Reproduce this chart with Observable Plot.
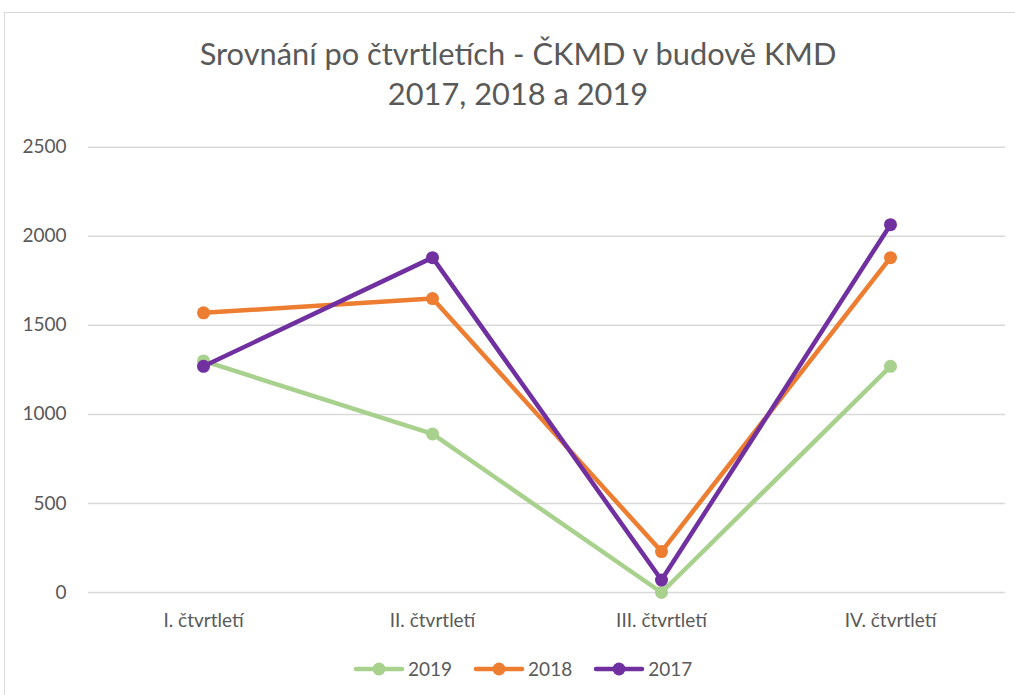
<!DOCTYPE html>
<html>
<head>
<meta charset="utf-8">
<script src="https://cdn.jsdelivr.net/npm/d3@7"></script>
<script src="https://cdn.jsdelivr.net/npm/@observablehq/plot@0.6"></script>
<style>
  html, body { margin: 0; padding: 0; background: #fff; overflow: hidden; width: 1015px; height: 695px; }
  #frame { position: absolute; left: 4px; top: 12px; width: 1030px; height: 720px; border: 1.5px solid #d9d9d9; box-sizing: border-box; }
  #title { position: absolute; left: 0; top: 34px; width: 1036px; text-align: center; font-family: Lato, sans-serif; font-size: 30.8px; line-height: 40px; color: #595959; }
  #chart { position: absolute; left: 0; top: 120px; }
  #legend { position: absolute; left: 353px; top: 657px; display: flex; align-items: center; font-family: Lato, sans-serif; font-size: 19px; color: #595959; }
  #legend .item { display: flex; align-items: center; margin-right: 21px; }
  #legend svg { margin-right: 3px; }
</style>
</head>
<body>
<div id="frame"></div>
<div id="title">Srovnání po čtvrtletích - ČKMD v budově KMD<br>2017, 2018 a 2019</div>
<div id="chart"></div>
<div id="legend"></div>
<script>
const quarters = ["I. čtvrtletí", "II. čtvrtletí", "III. čtvrtletí", "IV. čtvrtletí"];
const years = ["2019", "2018", "2017"];
const values2019 = [1300, 890, 0, 1270];
const values2018 = [1570, 1650, 230, 1880];
const values2017 = [1270, 1880, 70, 2065];
const yTicks = [0, 500, 1000, 1500, 2000, 2500];
const colors = ["#A9D18E", "#ED7D31", "#7030A0"];

const seriesValues = {"2019": values2019, "2018": values2018, "2017": values2017};
const data = years.flatMap(y => quarters.map((q, i) => ({quarter: q, year: y, value: seriesValues[y][i]})));

const seriesMarks = years.flatMap(y => {
  const d = data.filter(r => r.year === y);
  return [
    Plot.lineY(d, {x: "quarter", y: "value", stroke: "year", strokeWidth: 4.5, strokeLinecap: "round", strokeLinejoin: "round"}),
    Plot.dot(d, {x: "quarter", y: "value", fill: "year", r: 6.5, stroke: "none"})
  ];
});

const chart = Plot.plot({
  width: 1015,
  height: 520,
  marginLeft: 88,
  marginRight: 10,
  marginTop: 26.7,
  marginBottom: 48,
  style: {fontFamily: "Lato, sans-serif", fontSize: "19px", color: "#595959", background: "transparent", overflow: "visible"},
  x: {type: "point", domain: quarters, padding: 0.5, label: null, tickSize: 0, tickPadding: 21},
  y: {domain: [0, 2500], ticks: yTicks, label: null, tickSize: 0, tickPadding: 22},
  color: {domain: years, range: colors},
  marks: [
    Plot.ruleY(yTicks, {stroke: "#d9d9d9", strokeWidth: 1.5}),
    Plot.axisY({ticks: yTicks, tickFormat: d => String(d), tickSize: 0, tickPadding: 22, label: null, fill: "#595959"}),
    Plot.axisX({tickSize: 0, tickPadding: 21, label: null, fill: "#595959"}),
    ...seriesMarks
  ]
});
document.getElementById("chart").appendChild(chart);

const legend = document.getElementById("legend");
years.forEach((y, i) => {
  const item = document.createElement("div");
  item.className = "item";
  item.innerHTML = `<svg width="52" height="16"><line x1="3" y1="8" x2="49" y2="8" stroke="${colors[i]}" stroke-width="4.5" stroke-linecap="round"/><circle cx="26" cy="8" r="6.5" fill="${colors[i]}"/></svg><span>${y}</span>`;
  legend.appendChild(item);
});
</script>
</body>
</html>
